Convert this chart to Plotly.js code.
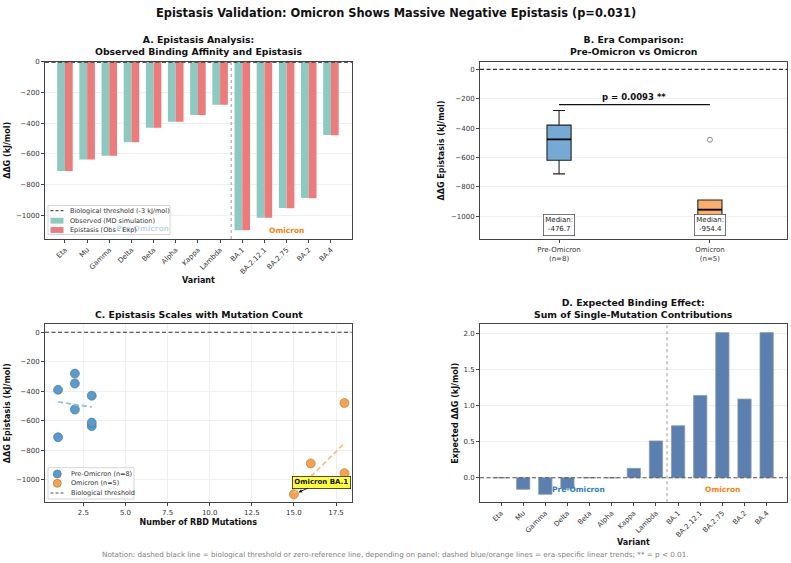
<!DOCTYPE html>
<html>
<head>
<meta charset="utf-8">
<script src="https://cdn.plot.ly/plotly-3.0.1.min.js"></script>
<style>html,body{margin:0;padding:0;background:#fff;}#chart{width:791px;height:563px;}</style>
</head>
<body>
<div id="chart"></div>
<script>
// ---------------- DATA ----------------
const variants = ['Eta','Mu','Gamma','Delta','Beta','Alpha','Kappa','Lambda','BA.1','BA.2.12.1','BA.2.75','BA.2','BA.4'];
const nPre = 8; // first 8 variants are pre-Omicron
const observed = [-711.0, -636.2, -612.2, -523.6, -430.0, -390.0, -346.9, -279.5, -1097.3, -1015.9, -952.4, -887.9, -477.0];
const epistasis = [-711.0, -636.0, -612.0, -523.4, -430.0, -390.0, -347.0, -280.0, -1098.0, -1017.0, -954.4, -889.0, -479.0];
const expected = [0.0, -0.16, -0.23, -0.15, 0.0, 0.0, 0.13, 0.51, 0.72, 1.14, 2.01, 1.09, 2.01];
const mutations = [1, 3, 3, 2, 3, 1, 2, 2, 15, 17, 18, 16, 18];
const eraNames = ['Pre-Omicron', 'Omicron'];
const legendA = ['Biological threshold (-3 kJ/mol)', 'Observed (MD simulation)', 'Epistasis (Obs - Exp)'];
const thresholdValue = -3;
const pValueEra = '0.0093 **';
const sigBarY = -240;
const medianLabelY = -1060;
const annotatedVariant = 'BA.1';

// ---------------- HELPERS ----------------
const FONT = 'DejaVu Sans, sans-serif';
const W = 791, H = 563;
const px = v => v / W;
const py = v => 1 - v / H;
function pct(a, p){const s=[...a].sort((x,y)=>x-y);const pos=(s.length-1)*p;const lo=Math.floor(pos),hi=Math.ceil(pos);return s[lo]+(s[hi]-s[lo])*(pos-lo);}
function boxStats(a){
  const q1=pct(a,0.25), q3=pct(a,0.75), med=pct(a,0.5), iqr=q3-q1;
  const inside=a.filter(v=>v>=q1-1.5*iqr && v<=q3+1.5*iqr);
  return {q1, q3, med, lo:Math.min(...inside), hi:Math.max(...inside), out:a.filter(v=>v<q1-1.5*iqr||v>q3+1.5*iqr)};
}
function linfit(xs, ys){
  const n=xs.length, mx=xs.reduce((a,b)=>a+b,0)/n, my=ys.reduce((a,b)=>a+b,0)/n;
  let sxy=0,sxx=0; for(let i=0;i<n;i++){sxy+=(xs[i]-mx)*(ys[i]-my);sxx+=(xs[i]-mx)**2;}
  const b=sxy/sxx, a=my-b*mx; const lo=Math.min(...xs), hi=Math.max(...xs);
  return {x:[lo,hi], y:[a+b*lo, a+b*hi]};
}
const idx = variants.map((_, i) => i);
const preEpi = epistasis.slice(0, nPre), omiEpi = epistasis.slice(nPre);
const preMut = mutations.slice(0, nPre), omiMut = mutations.slice(nPre);
const preFit = linfit(preMut, preEpi), omiFit = linfit(omiMut, omiEpi);
const preBox = boxStats(preEpi), omiBox = boxStats(omiEpi);

const C_TEAL = '#8dc9c1', C_RED = '#ec7b7b';
const C_BLUE_BOX = '#74aad4', C_ORANGE_BOX = '#fcae6c';
const C_BLUE = '#5a9bcc', C_ORANGE = '#f7a151';
const C_DBAR = '#5b7fae';
const GRID = '#ebebeb', AXLINE = '#444';
const DASH = '4px,2.5px';

const tickFont = {family: FONT, size: 7, color: '#333'};
const labFont = {family: FONT, size: 8, color: '#111'};
function axisBase(extra){
  return Object.assign({showline:true, mirror:true, linecolor:AXLINE, linewidth:1,
    ticks:'outside', ticklen:3, tickcolor:AXLINE, tickfont:tickFont, zeroline:false,
    showgrid:false, gridcolor:GRID, gridwidth:0.8}, extra);
}

// ---------------- TRACES ----------------
const traces = [];
// Panel A
traces.push({type:'scatter', mode:'text', x:[(nPre-1)/2], y:[-1090], xaxis:'x', yaxis:'y', showlegend:false,
  text:['<b>' + eraNames[0] + '</b>'], textfont:{family:FONT, size:7.5, color:'#2e7fc0'}, hoverinfo:'skip'});
traces.push({type:'bar', x:idx, y:observed, xaxis:'x', yaxis:'y', name:legendA[1], showlegend:false,
  marker:{color:C_TEAL}, width:0.35, offset:-0.35});
traces.push({type:'bar', x:idx, y:epistasis, xaxis:'x', yaxis:'y', name:legendA[2], showlegend:false,
  marker:{color:C_RED}, width:0.35, offset:0});
// Panel B
const boxW = 0.16;
[[preBox, 1, C_BLUE_BOX], [omiBox, 2, C_ORANGE_BOX]].forEach(([b, pos, col]) => {
  traces.push({type:'box', x:[pos], q1:[b.q1], median:[b.med], q3:[b.q3], lowerfence:[b.lo], upperfence:[b.hi],
    xaxis:'x2', yaxis:'y2', showlegend:false, fillcolor:col, line:{color:'#222', width:1.1},
    width:boxW, whiskerwidth:0.5, boxpoints:false, orientation:'v'});
  if (b.out.length) traces.push({type:'scatter', mode:'markers', x:b.out.map(()=>pos), y:b.out, xaxis:'x2', yaxis:'y2',
    showlegend:false, marker:{symbol:'circle-open', color:'#888', size:5, line:{width:1}}});
});
// Panel C
traces.push({type:'scatter', mode:'markers', x:preMut, y:preEpi, xaxis:'x3', yaxis:'y3', showlegend:false,
  marker:{color:C_BLUE, size:9, line:{color:'#3f6f96', width:0.6}}});
traces.push({type:'scatter', mode:'markers', x:omiMut, y:omiEpi, xaxis:'x3', yaxis:'y3', showlegend:false,
  marker:{color:C_ORANGE, size:9, line:{color:'#b0702f', width:0.6}}});
traces.push({type:'scatter', mode:'lines', x:preFit.x, y:preFit.y, xaxis:'x3', yaxis:'y3', showlegend:false,
  line:{color:'#8fc0e4', dash:'5px,3px', width:1.8}, hoverinfo:'skip'});
traces.push({type:'scatter', mode:'lines', x:omiFit.x, y:omiFit.y, xaxis:'x3', yaxis:'y3', showlegend:false,
  line:{color:'#fdbd86', dash:'5px,3px', width:1.8}, hoverinfo:'skip'});
// Panel D
traces.push({type:'bar', x:idx, y:expected, xaxis:'x4', yaxis:'y4', showlegend:false,
  marker:{color:C_DBAR, line:{color:'#8d9cb0', width:0.8}}, width:0.6});

// ---------------- LAYOUT ----------------
const dA = {x:[px(45), px(352)], y:[py(239), py(61.7)]};
const dB = {x:[px(480), px(787)], y:[py(239.3), py(61.7)]};
const dC = {x:[px(45), px(351.7)], y:[py(502.3), py(324.3)]};
const dD = {x:[px(480), px(787)], y:[py(502.3), py(324.3)]};

const baIdx = variants.indexOf(annotatedVariant);
const legFont = {family:FONT, size:6.5, color:'#333'};
const leg = (t, xp, yp) => ({text:t, xref:'paper', yref:'paper', x:px(xp), y:py(yp), xanchor:'left', yanchor:'middle', showarrow:false, font:legFont});
const titleFont = {family:FONT, size:9.3, color:'#111'};

const layout = {
  width:W, height:H, margin:{l:0,r:0,t:0,b:0}, paper_bgcolor:'#fff', plot_bgcolor:'#fff',
  font:{family:FONT, color:'#222'}, barmode:'overlay', showlegend:false,
  xaxis: axisBase({domain:dA.x, anchor:'y', range:[-0.9, 12.95], tickvals:idx, ticktext:variants, tickangle:-45,
    title:{text:'<b>Variant</b>', font:labFont, standoff:2}}),
  yaxis: axisBase({domain:dA.y, anchor:'x', range:[-1155, 1], dtick:200, showgrid:true,
    title:{text:'<b>ΔΔG (kJ/mol)</b>', font:labFont, standoff:4}}),
  xaxis2: axisBase({domain:dB.x, anchor:'y2', type:'linear', range:[0.476, 2.511], tickvals:[1,2],
    ticktext:[eraNames[0]+'<br>(n='+preEpi.length+')', eraNames[1]+'<br>(n='+omiEpi.length+')']}),
  yaxis2: axisBase({domain:dB.y, anchor:'x2', range:[-1156, 52], dtick:200, showgrid:true,
    title:{text:'<b>ΔΔG Epistasis (kJ/mol)</b>', font:labFont, standoff:5}}),
  xaxis3: axisBase({domain:dC.x, anchor:'y3', range:[0.225, 18.43], tick0:0, dtick:2.5, tickformat:'.1f', showgrid:true,
    title:{text:'<b>Number of RBD Mutations</b>', font:labFont, standoff:3}}),
  yaxis3: axisBase({domain:dC.y, anchor:'x3', range:[-1152, 54], dtick:200, showgrid:true,
    title:{text:'<b>ΔΔG Epistasis (kJ/mol)</b>', font:labFont, standoff:4}}),
  xaxis4: axisBase({domain:dD.x, anchor:'y4', range:[-0.95, 12.92], tickvals:idx, ticktext:variants, tickangle:-45,
    title:{text:'<b>Variant</b>', font:labFont, standoff:1}}),
  yaxis4: axisBase({domain:dD.y, anchor:'x4', range:[-0.34, 2.125], dtick:0.5, tickformat:'.1f', showgrid:true,
    title:{text:'<b>Expected ΔΔG (kJ/mol)</b>', font:labFont, standoff:3}}),
  shapes:[
    {type:'line', xref:'x domain', x0:0, x1:1, yref:'y', y0:thresholdValue, y1:thresholdValue, line:{color:'#555', dash:DASH, width:1.2}},
    {type:'line', xref:'x', x0:nPre-0.5, x1:nPre-0.5, yref:'y domain', y0:0, y1:1, line:{color:'#aaa', dash:'dot', width:1.2}},
    {type:'line', xref:'x2 domain', x0:0, x1:1, yref:'y2', y0:0, y1:0, line:{color:'#333', dash:DASH, width:1.1}},
    {type:'line', xref:'x2', x0:1, x1:2, yref:'y2', y0:sigBarY, y1:sigBarY, line:{color:'#111', width:1.4}},
    {type:'line', xref:'x2', x0:1-boxW/2, x1:1+boxW/2, yref:'y2', y0:preBox.med, y1:preBox.med, line:{color:'#000', width:1.8}},
    {type:'line', xref:'x2', x0:2-boxW/2, x1:2+boxW/2, yref:'y2', y0:omiBox.med, y1:omiBox.med, line:{color:'#000', width:1.8}},
    {type:'line', xref:'x3 domain', x0:0, x1:1, yref:'y3', y0:0, y1:0, line:{color:'#333', dash:DASH, width:1.1}},
    {type:'line', xref:'x4 domain', x0:0, x1:1, yref:'y4', y0:0, y1:0, line:{color:'#555', dash:DASH, width:1.1}},
    {type:'line', xref:'x4', x0:nPre-0.5, x1:nPre-0.5, yref:'y4 domain', y0:0, y1:1, line:{color:'#aaa', dash:'dot', width:1.2}},
    // legend A box + swatches
    {type:'rect', xref:'paper', yref:'paper', x0:px(48), x1:px(170), y0:py(234.5), y1:py(205.5), fillcolor:'rgba(255,255,255,0.7)', line:{color:'#ccc', width:0.8}},
    {type:'line', xref:'paper', yref:'paper', x0:px(50.5), x1:px(63.5), y0:py(210.7), y1:py(210.7), line:{color:'#555', dash:'3px,2px', width:1.2}},
    {type:'rect', xref:'paper', yref:'paper', x0:px(50.5), x1:px(63.5), y0:py(223.6), y1:py(217.8), fillcolor:C_TEAL, line:{width:0}},
    {type:'rect', xref:'paper', yref:'paper', x0:px(50.5), x1:px(63.5), y0:py(232.9), y1:py(227.1), fillcolor:C_RED, line:{width:0}},
    // legend C box + swatches
    {type:'rect', xref:'paper', yref:'paper', x0:px(48), x1:px(134), y0:py(499), y1:py(467.7), fillcolor:'rgba(255,255,255,0.8)', line:{color:'#ccc', width:0.8}},
    {type:'circle', xref:'paper', yref:'paper', x0:px(53.3), x1:px(61.3), y0:py(478), y1:py(470), fillcolor:C_BLUE, line:{color:'#3f6f96', width:0.6}},
    {type:'circle', xref:'paper', yref:'paper', x0:px(53.3), x1:px(61.3), y0:py(487.3), y1:py(479.3), fillcolor:C_ORANGE, line:{color:'#b0702f', width:0.6}},
    {type:'line', xref:'paper', yref:'paper', x0:px(50.5), x1:px(63.5), y0:py(493), y1:py(493), line:{color:'#555', dash:'3px,2px', width:1.2}}
  ],
  annotations:[
    {text:'<b>Epistasis Validation: Omicron Shows Massive Negative Epistasis (p=0.031)</b>', xref:'paper', yref:'paper',
      x:0.5, y:py(13), xanchor:'center', yanchor:'middle', showarrow:false, font:{family:FONT, size:11.4, color:'#111'}},
    {text:'<b>A. Epistasis Analysis:<br>Observed Binding Affinity and Epistasis</b>', xref:'paper', yref:'paper',
      x:px(198.5), y:py(59), xanchor:'center', yanchor:'bottom', showarrow:false, font:titleFont},
    {text:'<b>B. Era Comparison:<br>Pre-Omicron vs Omicron</b>', xref:'paper', yref:'paper',
      x:px(633.5), y:py(59), xanchor:'center', yanchor:'bottom', showarrow:false, font:titleFont},
    {text:'<b>C. Epistasis Scales with Mutation Count</b>', xref:'paper', yref:'paper',
      x:px(198.5), y:py(321.5), xanchor:'center', yanchor:'bottom', showarrow:false, font:titleFont},
    {text:'<b>D. Expected Binding Effect:<br>Sum of Single-Mutation Contributions</b>', xref:'paper', yref:'paper',
      x:px(633.5), y:py(321.5), xanchor:'center', yanchor:'bottom', showarrow:false, font:titleFont},
    {text:'Notation: dashed black line = biological threshold or zero-reference line, depending on panel; dashed blue/orange lines = era-specific linear trends; ** = p < 0.01.',
      xref:'paper', yref:'paper', x:0.5, y:py(554), xanchor:'center', yanchor:'middle', showarrow:false, font:{family:FONT, size:7.2, color:'#808080'}},
    // Panel A
    {text:'<b>' + eraNames[1] + '</b>', xref:'x', yref:'y domain', x:nPre+2, y:0.05, yanchor:'middle', showarrow:false, font:{family:FONT, size:7.5, color:'#ff7f0e'}},
    leg(legendA[0], 68.3, 210.7), leg(legendA[1], 68.3, 220.7), leg(legendA[2], 68.3, 230),
    // Panel B
    {text:'<b>p = ' + pValueEra + '</b>', xref:'x2', yref:'y2', x:1.5, y:sigBarY, yanchor:'bottom', yshift:1, showarrow:false, font:{family:FONT, size:8.5, color:'#111'}},
    {text:'Median:<br>' + preBox.med.toFixed(1), xref:'x2', yref:'y2', x:1, y:medianLabelY, showarrow:false, bgcolor:'#fff', bordercolor:'#555', borderwidth:0.8, borderpad:1.5, font:{family:FONT, size:7, color:'#222'}},
    {text:'Median:<br>' + omiBox.med.toFixed(1), xref:'x2', yref:'y2', x:2, y:medianLabelY, showarrow:false, bgcolor:'#fff', bordercolor:'#555', borderwidth:0.8, borderpad:1.5, font:{family:FONT, size:7, color:'#222'}},
    // Panel C
    {text:'<b>Omicron ' + annotatedVariant + '</b>', xref:'x3', yref:'y3', x:mutations[baIdx], y:epistasis[baIdx],
      axref:'x3', ayref:'y3', ax:16.66, ay:-1015, showarrow:true, arrowhead:2, arrowsize:0.8, arrowwidth:0.9, arrowcolor:'#111', standoff:5,
      bgcolor:'#ffff3a', bordercolor:'#222', borderwidth:0.8, borderpad:1.5, font:{family:FONT, size:7, color:'#111'}},
    leg(eraNames[0] + ' (n=' + preEpi.length + ')', 69, 474), leg(eraNames[1] + ' (n=' + omiEpi.length + ')', 69, 483.3), leg('Biological threshold', 69, 493),
    // Panel D era labels
    {text:'<b>' + eraNames[0] + '</b>', xref:'x4', yref:'y4 domain', x:(nPre-1)/2, y:0.07, yanchor:'middle', showarrow:false, font:{family:FONT, size:7.5, color:'#2e7fc0'}},
    {text:'<b>' + eraNames[1] + '</b>', xref:'x4', yref:'y4 domain', x:nPre+2, y:0.07, yanchor:'middle', showarrow:false, font:{family:FONT, size:7.5, color:'#ff7f0e'}}
  ]
};

Plotly.newPlot('chart', traces, layout, {displayModeBar:false, staticPlot:true});
</script>
</body>
</html>
